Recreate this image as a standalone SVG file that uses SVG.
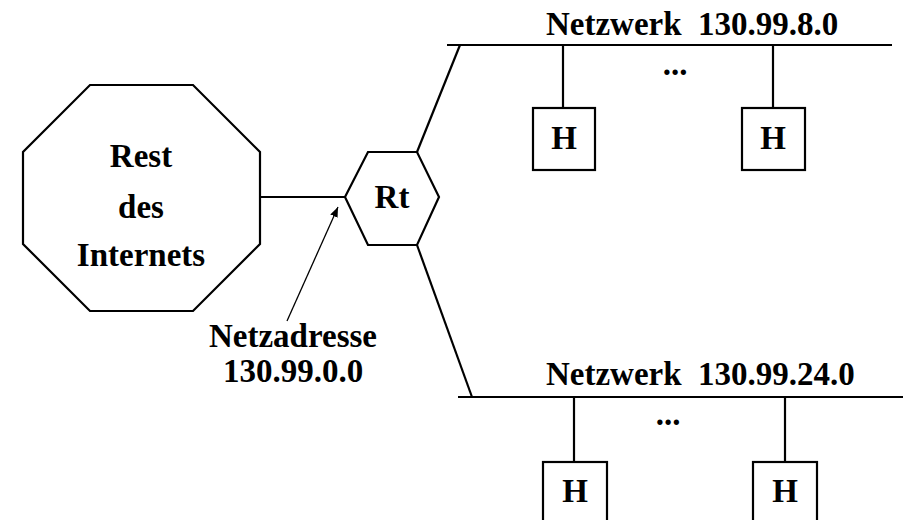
<svg xmlns="http://www.w3.org/2000/svg" width="908" height="520" viewBox="0 0 908 520">
  <defs>
    <style>
      .shape { fill: #fff; stroke: #000; stroke-width: 2.2; stroke-linejoin: miter; }
      .wire { fill: none; stroke: #000; stroke-width: 2.2; }
      .thin { fill: none; stroke: #000; stroke-width: 1.3; }
      .lbl { font-family: "Liberation Serif", "Times New Roman", serif; font-weight: bold; font-size: 33px; fill: #000; }
      .mid { text-anchor: middle; }
    </style>
    <marker id="tip" viewBox="0 0 10 10" refX="10" refY="5" markerWidth="10" markerHeight="10" markerUnits="userSpaceOnUse" orient="auto">
      <path d="M0,1 L10,5 L0,9 Z" fill="#000"/>
    </marker>
  </defs>

  <!-- connectors -->
  <g id="connectors">
    <line class="wire" x1="260" y1="197" x2="345" y2="197"/>
    <line class="wire" x1="417" y1="152" x2="460" y2="45"/>
    <line class="wire" x1="417" y1="245" x2="472" y2="397"/>
    <!-- network buses -->
    <line class="wire" x1="447" y1="45" x2="892" y2="45"/>
    <line class="wire" x1="458" y1="397" x2="903" y2="397"/>
    <!-- host drops -->
    <line class="wire" x1="563" y1="45" x2="563" y2="108"/>
    <line class="wire" x1="773" y1="45" x2="773" y2="108"/>
    <line class="wire" x1="574" y1="397" x2="574" y2="462"/>
    <line class="wire" x1="785" y1="397" x2="785" y2="462"/>
    <!-- address pointer -->
    <line class="thin" x1="287" y1="321" x2="338" y2="207" marker-end="url(#tip)"/>
  </g>

  <g id="internet">
    <polygon class="shape" points="90,85 193,85 260,152 260,244 193,311 90,311 23,244 23,152"/>
    <text class="lbl mid" x="141" y="167">Rest</text>
    <text class="lbl mid" x="141" y="218">des</text>
    <text class="lbl mid" x="141" y="266">Internets</text>
  </g>

  <g id="router">
    <polygon class="shape" points="345,197 368,152 417,152 439,197 417,245 368,245"/>
    <text class="lbl mid" x="392" y="208">Rt</text>
  </g>

  <g id="address">
    <text class="lbl mid" x="293" y="347">Netzadresse</text>
    <text class="lbl mid" x="293" y="382">130.99.0.0</text>
  </g>

  <g id="net8">
    <text class="lbl" x="546" y="35" xml:space="preserve">Netzwerk  130.99.8.0</text>
    <text class="lbl mid" x="675" y="75">...</text>
  </g>

  <g id="host8a">
    <rect class="shape" x="533" y="108" width="62" height="62"/>
    <text class="lbl mid" x="564" y="149">H</text>
  </g>

  <g id="host8b">
    <rect class="shape" x="742" y="108" width="63" height="62"/>
    <text class="lbl mid" x="773" y="149">H</text>
  </g>

  <g id="net24">
    <text class="lbl" x="546" y="385" xml:space="preserve">Netzwerk  130.99.24.0</text>
    <text class="lbl mid" x="668" y="425">...</text>
  </g>

  <g id="host24a">
    <rect class="shape" x="543" y="462" width="64" height="60"/>
    <text class="lbl mid" x="575" y="502">H</text>
  </g>

  <g id="host24b">
    <rect class="shape" x="753" y="462" width="64" height="60"/>
    <text class="lbl mid" x="785" y="502">H</text>
  </g>
</svg>
